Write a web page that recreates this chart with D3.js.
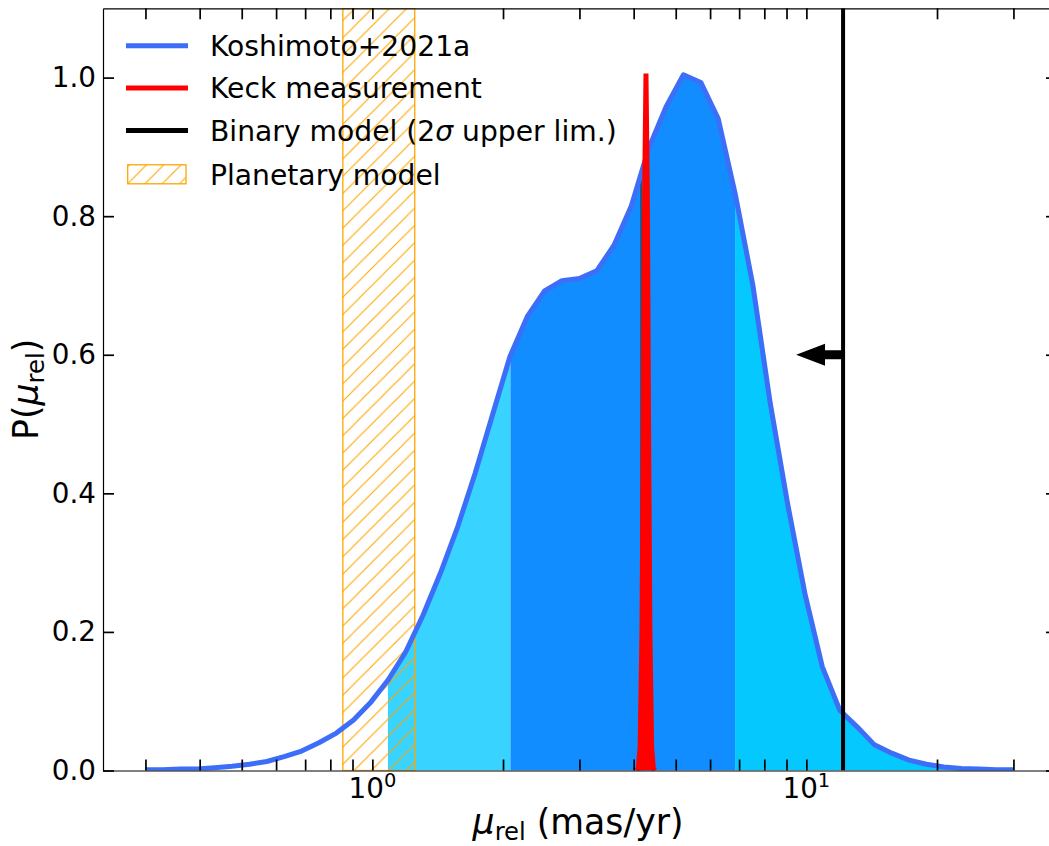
<!DOCTYPE html>
<html><head><meta charset="utf-8">
<script src="https://cdn.jsdelivr.net/npm/d3@7"></script>
<style>
body{margin:0;background:#fff}
svg{display:block}
text{font-family:"DejaVu Sans",sans-serif;fill:#000}
</style>
</head><body>
<svg id="c" width="1049" height="846"></svg>
<script>
// ---- data ----
const mu = [0.300,0.329,0.361,0.395,0.433,0.475,0.521,0.571,0.626,0.687,0.753,0.826,0.905,0.993,1.088,1.193,1.308,1.435,1.573,1.725,1.891,2.074,2.274,2.493,2.734,2.998,3.287,3.604,3.952,4.333,4.751,5.209,5.712,6.263,6.867,7.530,8.256,9.053,9.926,10.88,11.94,13.09,14.35,15.73,17.25,18.92,20.74,22.74,24.94,27.34,29.98];
const prob = [0.001,0.001,0.002,0.002,0.004,0.006,0.009,0.013,0.020,0.028,0.040,0.054,0.073,0.099,0.131,0.171,0.224,0.285,0.352,0.429,0.513,0.597,0.655,0.692,0.707,0.710,0.721,0.758,0.815,0.898,0.958,1.004,0.993,0.941,0.830,0.700,0.530,0.385,0.255,0.150,0.087,0.063,0.037,0.025,0.015,0.009,0.005,0.003,0.002,0.001,0.001];
const keckMu = [4.06,4.10,4.14,4.18,4.21,4.24,4.27,4.30,4.33,4.36,4.40,4.44,4.48];
const keckP = [0.000,0.003,0.034,0.198,0.487,0.835,1.006,0.835,0.487,0.198,0.034,0.003,0.000];
const bandEdges = [1.086, 2.08, 6.85, 29.98];
const bandColors = ["#38D3FF", "#128DFF", "#05C8FF"];
const planetaryRange = [0.855, 1.252];
const binaryLimit = 12.15;
const arrowLevel = 0.6;
const arrowHeadBase = 11.04;
const arrowTip = 9.47;
const medianMu = 4.16;
const yTicks = [0.0, 0.2, 0.4, 0.6, 0.8, 1.0];
const xMajor = [1, 10];
const xMajorExp = ["0", "1"];
const xMinor = [0.3,0.4,0.5,0.6,0.7,0.8,0.9,2,3,4,5,6,7,8,9,20,30];
const legendLabels = ["Koshimoto+2021a", "Keck measurement", "Binary model (2σ upper lim.)", "Planetary model"];

// ---- layout ----
const svg = d3.select("#c");
const L = 103, R = 1057, T = 8.3, B = 770.5;
const FS = 27.8, FLEG = 28.2, FL = 34.7;
const x = d3.scaleLog().domain([0.2395, 37.8]).range([L, R]);
const y = d3.scaleLinear().domain([0, 1.1]).range([B, T]);

const defs = svg.append("defs");
defs.append("clipPath").attr("id","plotclip").append("rect")
  .attr("x",L).attr("y",T).attr("width",R-L).attr("height",B-T);
bandColors.forEach((c,i)=>{
  defs.append("clipPath").attr("id","band"+i).append("rect")
    .attr("x", x(bandEdges[i])).attr("y", T)
    .attr("width", x(bandEdges[i+1]) - x(bandEdges[i])).attr("height", B-T);
});
const hs = 17.3;
const pat = defs.append("pattern").attr("id","hatch").attr("patternUnits","userSpaceOnUse")
  .attr("width",hs).attr("height",hs);
pat.append("path").attr("d",`M0,${hs} L${hs},0 M${-hs/2},${hs/2} L${hs/2},${-hs/2} M${hs/2},${hs*1.5} L${hs*1.5},${hs/2}`)
  .attr("stroke","#FFA500").attr("stroke-width",1.1).attr("fill","none");

const pts = mu.map((m,i)=>({m, p:prob[i]}));
const plot = svg.append("g").attr("clip-path","url(#plotclip)");

// filled credible bands
const area = d3.area().x(d=>x(d.m)).y0(y(0)).y1(d=>y(d.p));
bandColors.forEach((c,i)=>{
  plot.append("path").datum(pts).attr("d",area).attr("fill",c)
    .attr("clip-path",`url(#band${i})`);
});

// median thin line
function interp(m){
  for(let i=0;i<mu.length-1;i++){
    if(m>=mu[i] && m<=mu[i+1]){
      const t=(Math.log(m)-Math.log(mu[i]))/(Math.log(mu[i+1])-Math.log(mu[i]));
      return prob[i]+t*(prob[i+1]-prob[i]);
    }
  }
  return 0;
}
plot.append("line").attr("x1",x(medianMu)).attr("x2",x(medianMu))
  .attr("y1",y(0)).attr("y2",y(interp(medianMu)))
  .attr("stroke","#333").attr("stroke-width",1.2);

// planetary model hatched region
plot.append("rect").attr("x",x(planetaryRange[0])).attr("y",y(1.1))
  .attr("width",x(planetaryRange[1])-x(planetaryRange[0])).attr("height",y(0)-y(1.1))
  .attr("fill","url(#hatch)").attr("stroke","#FFA500").attr("stroke-width",1.3);

// Koshimoto curve
const line = d3.line().x(d=>x(d.m)).y(d=>y(d.p));
plot.append("path").datum(pts).attr("d",line).attr("fill","none")
  .attr("stroke","#3D6EF7").attr("stroke-width",5).attr("stroke-linejoin","round");

// Keck measurement
const kpts = keckMu.map((m,i)=>({m,p:keckP[i]}));
plot.append("path").datum(kpts).attr("d",line).attr("fill","#FF0000")
  .attr("stroke","#FF0000").attr("stroke-width",5).attr("stroke-linejoin","bevel");

// Binary model upper limit + arrow
plot.append("line").attr("x1",x(binaryLimit)).attr("x2",x(binaryLimit))
  .attr("y1",y(0)).attr("y2",y(1.1)).attr("stroke","#000").attr("stroke-width",4);
const ay = y(arrowLevel);
const arrowPts = [[x(binaryLimit),ay-4.4],[x(arrowHeadBase),ay-4.4],[x(arrowHeadBase),ay-11],
  [x(arrowTip),ay],[x(arrowHeadBase),ay+11],[x(arrowHeadBase),ay+4.4],[x(binaryLimit),ay+4.4]];
plot.append("path").attr("d", d3.line()(arrowPts)+"Z").attr("fill","#000");

// ---- axes ----
const allX = xMajor.concat(xMinor);
function styleAxis(g){
  g.selectAll(".tick line").attr("stroke","#000").attr("stroke-width",1.7);
  g.select(".domain").attr("stroke","#000").attr("stroke-width",1.2);
}
svg.append("g").attr("transform",`translate(0,${B})`)
  .call(d3.axisBottom(x).tickValues(allX).tickSize(-11).tickSizeOuter(0).tickFormat(""))
  .call(styleAxis);
svg.append("g").attr("transform",`translate(0,${T})`)
  .call(d3.axisTop(x).tickValues(allX).tickSize(-11).tickSizeOuter(0).tickFormat(""))
  .call(styleAxis);
const ya = svg.append("g").attr("transform",`translate(${L},0)`)
  .call(d3.axisLeft(y).tickValues(yTicks).tickSize(-11).tickSizeOuter(0).tickPadding(7).tickFormat(d3.format(".1f")))
  .call(styleAxis);
ya.selectAll(".tick text").attr("font-size",FS).attr("font-family","DejaVu Sans").attr("fill","#000");
svg.append("g").attr("transform",`translate(${R},0)`)
  .call(d3.axisRight(y).tickValues(yTicks).tickSize(-11).tickSizeOuter(0).tickFormat(""))
  .call(styleAxis);

// x tick labels 10^n
xMajor.forEach((v,i)=>{
  const t = svg.append("text").attr("x",x(v)).attr("y",798).attr("text-anchor","middle").attr("font-size",FS);
  t.append("tspan").text("10");
  t.append("tspan").attr("font-size",FS*0.7).attr("dy",-11.5).text(xMajorExp[i]);
});

// axis labels
const xl = svg.append("text").attr("x",578).attr("y",834).attr("text-anchor","middle").attr("font-size",FL);
xl.append("tspan").attr("font-style","italic").text("μ");
xl.append("tspan").attr("font-size",FL*0.7).attr("dy",6).text("rel");
xl.append("tspan").attr("dy",-6).text(" (mas/yr)");

const ylab = svg.append("text").attr("transform",`translate(38,${(T+B)/2}) rotate(-90)`)
  .attr("text-anchor","middle").attr("font-size",FL);
ylab.append("tspan").text("P(");
ylab.append("tspan").attr("font-style","italic").text("μ");
ylab.append("tspan").attr("font-size",FL*0.7).attr("dy",6).text("rel");
ylab.append("tspan").attr("dy",-6).text(")");

// ---- legend ----
const legColors = ["#3D6EF7","#FF0000","#000000"];
const legY = [45.7, 87.9, 130.5, 174.3];
legendLabels.forEach((lab,i)=>{
  if(i<3){
    svg.append("line").attr("x1",126).attr("x2",188).attr("y1",legY[i]).attr("y2",legY[i])
      .attr("stroke",legColors[i]).attr("stroke-width",5);
  } else {
    svg.append("rect").attr("x",127.7).attr("y",legY[i]-9.5).attr("width",58.3).attr("height",19)
      .attr("fill","url(#hatch)").attr("stroke","#FFA500").attr("stroke-width",1.3);
  }
  const t = svg.append("text").attr("x",210).attr("y",legY[i]+10.3).attr("font-size",FLEG);
  const parts = lab.split("σ");
  t.append("tspan").text(parts[0]);
  if(parts.length>1){
    t.append("tspan").attr("font-style","italic").text("σ");
    t.append("tspan").text(parts[1]);
  }
});
</script>
</body></html>
